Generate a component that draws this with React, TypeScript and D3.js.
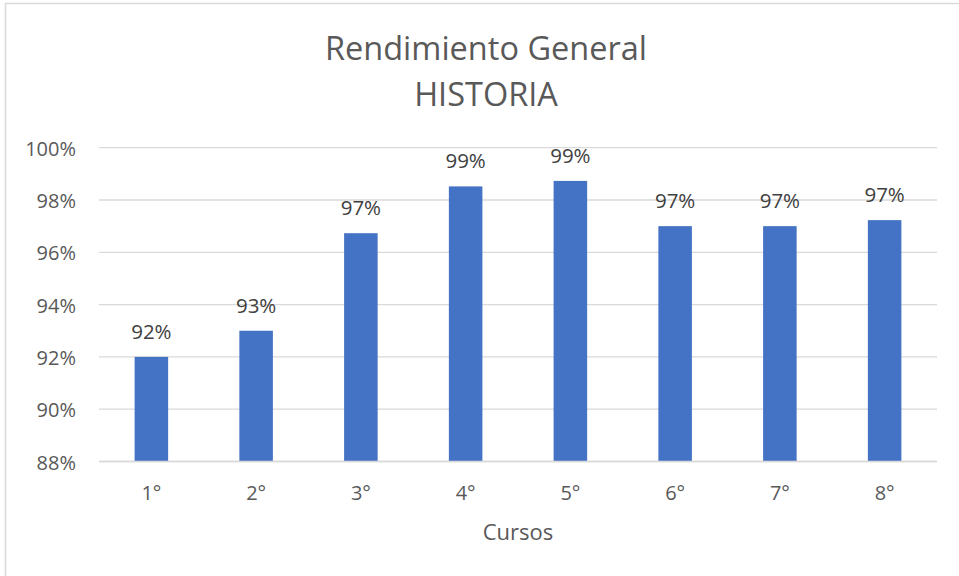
import React from "react";
import * as d3 from "d3";

const categories = ["1°", "2°", "3°", "4°", "5°", "6°", "7°", "8°"];
const values = [0.92, 0.93, 0.9673, 0.9852, 0.9873, 0.97, 0.97, 0.9723];
const yTicks = [0.88, 0.9, 0.92, 0.94, 0.96, 0.98, 1.0];
const titleLines = ["Rendimiento General", "HISTORIA"];
const xAxisTitle = "Cursos";

const W = 959;
const H = 576;
const FONT = "'Open Sans', 'Noto Sans', sans-serif";

export default function App() {
  const x = d3
    .scaleBand<string>()
    .domain(categories)
    .range([99, 937])
    .paddingInner(0.68)
    .paddingOuter(0.34);
  const y = d3.scaleLinear().domain([0.88, 1.0]).range([461.5, 147.7]);
  const fmt = d3.format(".0%");

  return (
    <div style={{ position: "fixed", left: 0, top: 0 }}>
      <svg width={W} height={H} style={{ display: "block", background: "#fff" }}>
        <rect x={5.5} y={3.5} width={1000} height={1000} fill="#fff" stroke="#D9D9D9" strokeWidth={1.5} />
        {titleLines.map((t, i) => (
          <text
            key={t}
            x={486}
            y={60 + i * 46}
            textAnchor="middle"
            fontFamily={FONT}
            fontSize={32.5}
            fill="#595959"
          >
            {t}
          </text>
        ))}
        {yTicks.map((t) => (
          <g key={t}>
            <line x1={99} x2={937} y1={y(t)} y2={y(t)} stroke="#D9D9D9" strokeWidth={1.3} />
            <text
              x={76}
              y={y(t) + 8}
              textAnchor="end"
              fontFamily={FONT}
              fontSize={20}
              fill="#595959"
            >
              {fmt(t)}
            </text>
          </g>
        ))}
        {categories.map((c, i) => (
          <g key={c}>
            <rect
              x={x(c)!}
              y={y(values[i])}
              width={x.bandwidth()}
              height={y(0.88) - y(values[i])}
              fill="#4472C4"
            />
            <text
              x={x(c)! + x.bandwidth() / 2}
              y={y(values[i]) - 18}
              textAnchor="middle"
              fontFamily={FONT}
              fontSize={20.5}
              fill="#404040"
            >
              {fmt(values[i])}
            </text>
            <text
              x={x(c)! + x.bandwidth() / 2}
              y={500}
              textAnchor="middle"
              fontFamily={FONT}
              fontSize={20}
              fill="#595959"
            >
              {c}
            </text>
          </g>
        ))}
        <line x1={99} x2={937} y1={y(0.88)} y2={y(0.88)} stroke="#D9D9D9" strokeWidth={1.3} />
        <text x={518} y={540} textAnchor="middle" fontFamily={FONT} fontSize={22} fill="#595959">
          {xAxisTitle}
        </text>
      </svg>
    </div>
  );
}
